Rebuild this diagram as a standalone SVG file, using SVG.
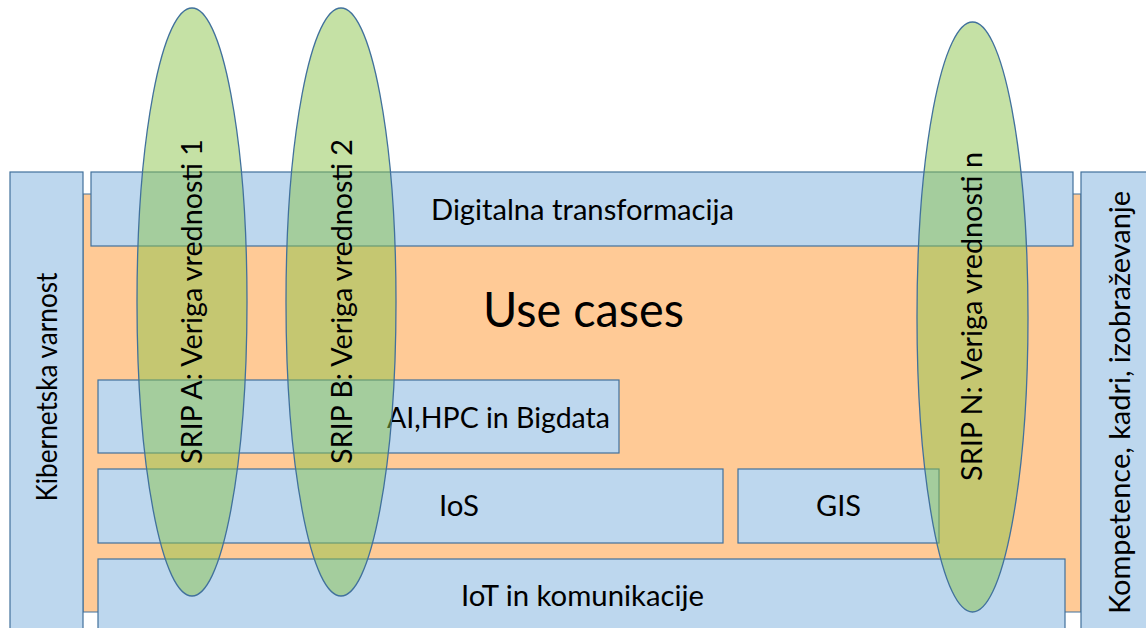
<svg xmlns="http://www.w3.org/2000/svg" width="1146" height="628" viewBox="0 0 1146 628">
  <style>
    .box { fill: #BDD7EE; stroke: #41719C; stroke-width: 1.2; }
    .bg { fill: #FFCA96; stroke: #41719C; stroke-width: 1; }
    .srip { fill: #8CC44C; fill-opacity: 0.5; stroke: #41719C; stroke-width: 1.3; }
    .t { font-family: Lato, "Open Sans", sans-serif; font-size: 28px; fill: #000; text-anchor: middle; }
    .big { font-size: 48px; }
  </style>
  <rect width="1146" height="628" fill="#FFFFFF"/>
  <g id="use-cases">
    <rect class="bg" x="83" y="194" width="998" height="418"/>
    <text class="t big" x="583.5" y="327" textLength="201" lengthAdjust="spacingAndGlyphs">Use cases</text>
  </g>
  <g id="kibernetska">
    <rect class="box" x="10" y="172" width="73" height="470"/>
    <text class="t" transform="translate(57,387) rotate(-90)" textLength="229" lengthAdjust="spacingAndGlyphs">Kibernetska varnost</text>
  </g>
  <g id="kompetence">
    <rect class="box" x="1081" y="172" width="80" height="470"/>
    <text class="t" transform="translate(1130,402.5) rotate(-90)" textLength="423" lengthAdjust="spacingAndGlyphs">Kompetence, kadri, izobraževanje</text>
  </g>
  <g id="digitalna">
    <rect class="box" x="91" y="172" width="982" height="74"/>
    <text class="t" x="582.5" y="220" textLength="303" lengthAdjust="spacingAndGlyphs">Digitalna transformacija</text>
  </g>
  <g id="ai">
    <rect class="box" x="98" y="380" width="521" height="73"/>
    <text class="t" x="498.5" y="428" textLength="223" lengthAdjust="spacingAndGlyphs">AI,HPC in Bigdata</text>
  </g>
  <g id="ios">
    <rect class="box" x="98" y="469" width="625" height="74"/>
    <text class="t" x="459" y="516" textLength="40" lengthAdjust="spacingAndGlyphs">IoS</text>
  </g>
  <g id="gis">
    <rect class="box" x="738" y="469" width="201" height="74"/>
    <text class="t" x="838.5" y="516" textLength="45" lengthAdjust="spacingAndGlyphs">GIS</text>
  </g>
  <g id="iot">
    <rect class="box" x="98" y="559" width="967" height="80"/>
    <text class="t" x="582.5" y="606" textLength="243" lengthAdjust="spacingAndGlyphs">IoT in komunikacije</text>
  </g>
  <g id="srip-a">
    <ellipse class="srip" cx="192" cy="302" rx="55" ry="294"/>
    <text class="t" transform="translate(202,301.5) rotate(-90)" textLength="325" lengthAdjust="spacingAndGlyphs">SRIP A: Veriga vrednosti 1</text>
  </g>
  <g id="srip-b">
    <ellipse class="srip" cx="341" cy="302" rx="55" ry="294"/>
    <text class="t" transform="translate(352,301.5) rotate(-90)" textLength="325" lengthAdjust="spacingAndGlyphs">SRIP B: Veriga vrednosti 2</text>
  </g>
  <g id="srip-n">
    <ellipse class="srip" cx="972.5" cy="317" rx="55.5" ry="295"/>
    <text class="t" transform="translate(982,316.5) rotate(-90)" textLength="329" lengthAdjust="spacingAndGlyphs">SRIP N: Veriga vrednosti n</text>
  </g>
  <g id="connectors"></g>
</svg>
